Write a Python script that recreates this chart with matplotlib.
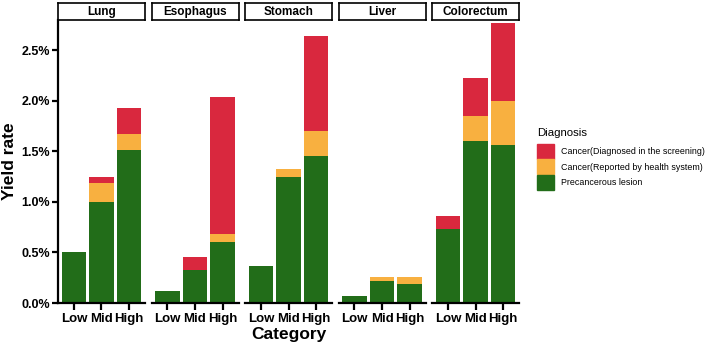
import matplotlib.pyplot as plt
from matplotlib.patches import Patch
from matplotlib.ticker import FuncFormatter

plt.rcParams['font.family'] = ['Liberation Sans', 'DejaVu Sans']

sites = ["Lung", "Esophagus", "Stomach", "Liver", "Colorectum"]
levels = ["Low", "Mid", "High"]

# yield rate (%) by site, for Low / Mid / High
precancer = {
    "Lung": [0.50, 1.00, 1.51],
    "Esophagus": [0.12, 0.33, 0.60],
    "Stomach": [0.365, 1.25, 1.45],
    "Liver": [0.07, 0.22, 0.185],
    "Colorectum": [0.73, 1.60, 1.56],
}
reported = {
    "Lung": [0.0, 0.19, 0.16],
    "Esophagus": [0.0, 0.0, 0.08],
    "Stomach": [0.0, 0.08, 0.25],
    "Liver": [0.0, 0.04, 0.075],
    "Colorectum": [0.0, 0.25, 0.44],
}
screened = {
    "Lung": [0.0, 0.06, 0.26],
    "Esophagus": [0.0, 0.13, 1.36],
    "Stomach": [0.0, 0.0, 0.945],
    "Liver": [0.0, 0.0, 0.0],
    "Colorectum": [0.13, 0.38, 0.77],
}

c_red = "#D9283E"
c_org = "#F8B040"
c_grn = "#226D19"

W, H = 708, 344
fig = plt.figure(figsize=(W / 100, H / 100), dpi=100)

left0, pw, step = 58, 87, 93.5
y_bot, y_top = 303, 20

for i, s in enumerate(sites):
    x0 = left0 + i * step
    ax = fig.add_axes([x0 / W, (H - y_bot) / H, pw / W, (y_bot - y_top) / H])
    x = range(len(levels))
    g = precancer[s]
    o = reported[s]
    r = screened[s]
    ax.bar(x, g, width=0.88, color=c_grn)
    ax.bar(x, o, width=0.88, bottom=g, color=c_org)
    ax.bar(x, r, width=0.88, bottom=[a + b for a, b in zip(g, o)], color=c_red)
    ax.set_xlim(-0.58, 2.58)
    ax.set_ylim(0, 2.8)
    ax.set_xticks(list(x))
    ax.set_xticklabels(levels, fontsize=9.5, fontweight="bold")
    ax.tick_params(axis="x", length=5, width=1.6, pad=2)
    for sp in ["top", "right"]:
        ax.spines[sp].set_visible(False)
    ax.spines["bottom"].set_linewidth(1.6)
    if i == 0:
        ax.spines["left"].set_linewidth(1.6)
        ax.set_yticks([0, 0.5, 1.0, 1.5, 2.0, 2.5])
        ax.yaxis.set_major_formatter(FuncFormatter(lambda v, p: f"{v:.1f}%"))
        for lab in ax.get_yticklabels():
            lab.set_fontweight("bold")
        ax.tick_params(axis="y", length=4, width=1.6, labelsize=9, pad=2)
        ax.set_ylabel("Yield rate", fontsize=12.5, fontweight="bold", labelpad=3)
    else:
        ax.spines["left"].set_visible(False)
        ax.set_yticks([])
    if i == 2:
        ax.set_xlabel("Category", fontsize=12.5, fontweight="bold", labelpad=2)

    # facet strip
    sax = fig.add_axes([x0 / W, (H - 20) / H, pw / W, 17 / H])
    sax.set_xticks([])
    sax.set_yticks([])
    for sp in sax.spines.values():
        sp.set_linewidth(1.2)
    sax.text(0.5, 0.45, s, ha="center", va="center", fontsize=8.5,
             fontweight="bold", transform=sax.transAxes)

handles = [Patch(color=c_red), Patch(color=c_org), Patch(color=c_grn)]
labels = ["Cancer(Diagnosed in the screening)", "Cancer(Reported by health system)",
          "Precancerous lesion"]
fig.text(537 / W, (H - 133) / H, "Diagnosis", fontsize=8.2, va="center", ha="left")
fig.legend(handles, labels, loc="upper left",
           bbox_to_anchor=(537 / W, (H - 144) / H), frameon=False, fontsize=6.4,
           handlelength=1.95, handleheight=2.15, borderpad=0,
           handletextpad=0.7, labelspacing=0.1, borderaxespad=0)

fig.savefig("out.png", dpi=100)
